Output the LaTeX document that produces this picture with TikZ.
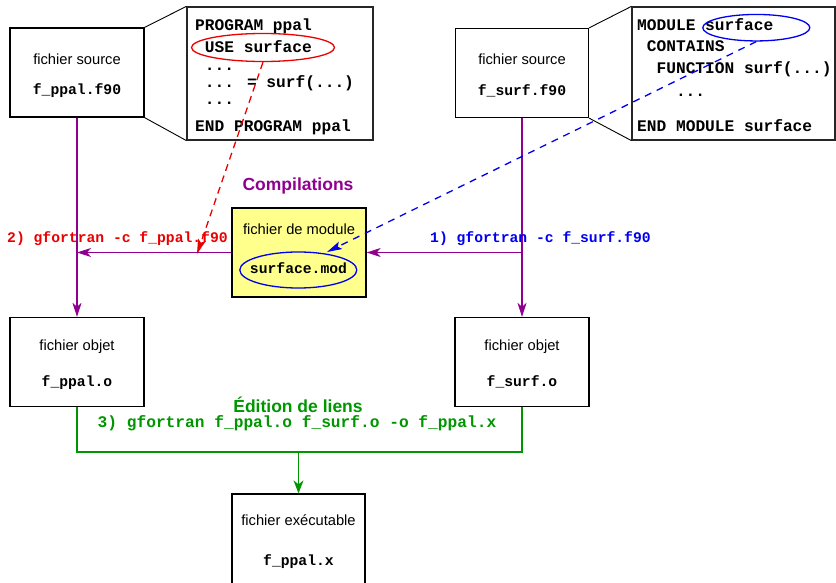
\documentclass[tikz,border=0pt]{standalone}
\usepackage{fontspec}
\setmainfont{Liberation Sans}
\newfontfamily\cour{Liberation Mono}
\usetikzlibrary{arrows.meta,shapes.geometric}
\definecolor{fpurple}{RGB}{144,0,144}
\definecolor{fred}{RGB}{235,0,0}
\definecolor{fblue}{RGB}{0,0,240}
\definecolor{fgreen}{RGB}{0,150,0}
\definecolor{fyellow}{RGB}{255,255,140}
\begin{document}
\begin{tikzpicture}[x=1pt,y=-1pt,
  filebox/.style={draw=black,line width=1.3pt,inner sep=0pt,minimum width=134pt,minimum height=89pt},
  codebox/.style={draw=black!85,line width=1.2pt,inner sep=0pt,minimum height=133pt},
  sans/.style={font=\fontsize{14.7}{17}\selectfont,anchor=base,inner sep=0pt},
  mono/.style={font=\fontsize{14.7}{17}\selectfont\cour\bfseries,anchor=base,inner sep=0pt},
  code/.style={font=\fontsize{16.2}{19}\selectfont\cour\bfseries,anchor=base west,inner sep=0pt},
  cmd/.style={font=\fontsize{14.7}{17}\selectfont\cour\bfseries,anchor=base west,inner sep=0pt},
  title/.style={font=\fontsize{17.5}{20}\selectfont\bfseries,anchor=base,inner sep=0pt},
  flow/.style={fpurple,line width=1.4pt,-{Stealth[length=14pt,width=9pt,inset=4pt]}},
  ring/.style={ellipse,line width=1.3pt,inner sep=0pt},
  dashlink/.style={line width=1.3pt,dash pattern=on 7pt off 5pt,-{Stealth[length=15pt,width=8pt,inset=3pt]}},
  diag/.style={line width=0.9pt,black}
]
\useasboundingbox (0,0) rectangle (836,583);

% ---- source files ----
\node[filebox] (src1) at (77,72.5) {};
\node[sans] (src1a) at (77,64.5) {fichier source};
\node[mono] (src1b) at (77,95) {f\_ppal.f90};

\node[filebox,minimum width=133pt] (src2) at (522,73) {};
\node[sans] (src2a) at (522,65) {fichier source};
\node[mono] (src2b) at (522,96) {f\_surf.f90};

% ---- code boxes ----
\node[codebox,minimum width=186pt] (code1) at (280,73.5) {};
\node[code] (l1) at (195,31) {PROGRAM ppal};
\node[code] (l2) at (204.7,53) {USE surface};
\node[code] (l3) at (204.7,71) {...};
\node[code] (l4) at (204.7,88) {... = surf(...)};
\node[code] (l5) at (204.7,105) {...};
\node[code] (l6) at (195,132) {END PROGRAM ppal};

\node[codebox,minimum width=203pt] (code2) at (733.5,73.5) {};
\node[code] (r1) at (637,30.5) {MODULE surface};
\node[code] (r2) at (646.7,52) {CONTAINS};
\node[code] (r3) at (656.4,74) {FUNCTION surf(...)};
\node[code] (r4) at (675.8,97) {...};
\node[code] (r5) at (637,132) {END MODULE surface};

\draw[diag] (src1.north east) -- (code1.north west);
\draw[diag] (src1.south east) -- (code1.south west);
\draw[diag] (src2.north east) -- (code2.north west);
\draw[diag] (src2.south east) -- (code2.south west);

% ---- module file ----
\node[filebox,fill=fyellow] (mod) at (299,252.5) {};
\node[sans] (moda) at (299,234) {fichier de module};
\node[ring,draw=fblue,minimum width=117pt,minimum height=36pt] (ellM) at (298.3,270) {};
\node[mono] (modb) at (298.5,273) {surface.mod};

% ---- ellipses in code ----
\node[ring,draw=fred,minimum width=143pt,minimum height=28pt] (ellA) at (263,47.5) {};
\node[ring,draw=fblue,minimum width=107pt,minimum height=26.5pt] (ellB) at (756.3,27.7) {};

% ---- object files ----
\node[filebox] (obj1) at (77,362) {};
\node[sans] (obj1a) at (77,350) {fichier objet};
\node[mono] (obj1b) at (77,386) {f\_ppal.o};

\node[filebox] (obj2) at (522,362) {};
\node[sans] (obj2a) at (522,350) {fichier objet};
\node[mono] (obj2b) at (522,386) {f\_surf.o};

% ---- executable ----
\node[filebox,minimum width=133pt,minimum height=94pt] (exe) at (298.5,541) {};
\node[sans] (exea) at (298.5,525) {fichier exécutable};
\node[mono] (exeb) at (298.5,565) {f\_ppal.x};

% ---- compilation flows ----
\node[title,fpurple] (comp) at (298,190) {Compilations};
\draw[flow] (src1.south) -- (obj1.north);
\draw[flow] (src2.south) -- (obj2.north);
\draw[flow] (mod.west) -- (src1.south |- mod.west);
\draw[flow] (src2.south |- mod.east) -- (mod.east);
\node[cmd,fred] (c2) at (7,243) {2) gfortran -c f\_ppal.f90};
\node[cmd,fblue] (c1) at (430,243) {1) gfortran -c f\_surf.f90};

% ---- dashed links ----
\coordinate (tipR) at (197,254);
\coordinate (tipB) at (327,252);
\draw[dashlink,fred] (ellA.south) -- (tipR);
\draw[dashlink,fblue,dash pattern=on 7pt off 6pt] (ellB.south) -- (tipB);

% ---- link edition ----
\node[title,fgreen] (edit) at (298,412) {Édition de liens};
\node[font=\fontsize{16.2}{19}\selectfont\cour\bfseries,anchor=base,inner sep=0pt,fgreen] (c3) at (297,427) {3) gfortran f\_ppal.o f\_surf.o -o f\_ppal.x};
\coordinate (gm) at (298.5,452);
\draw[fgreen,line width=1.3pt] (obj1.south) |- (gm) -| (obj2.south);
\draw[fgreen,line width=1.3pt,-{Stealth[length=13pt,width=10pt,inset=4pt]}] (gm) -- (exe.north);
\end{tikzpicture}
\end{document}
